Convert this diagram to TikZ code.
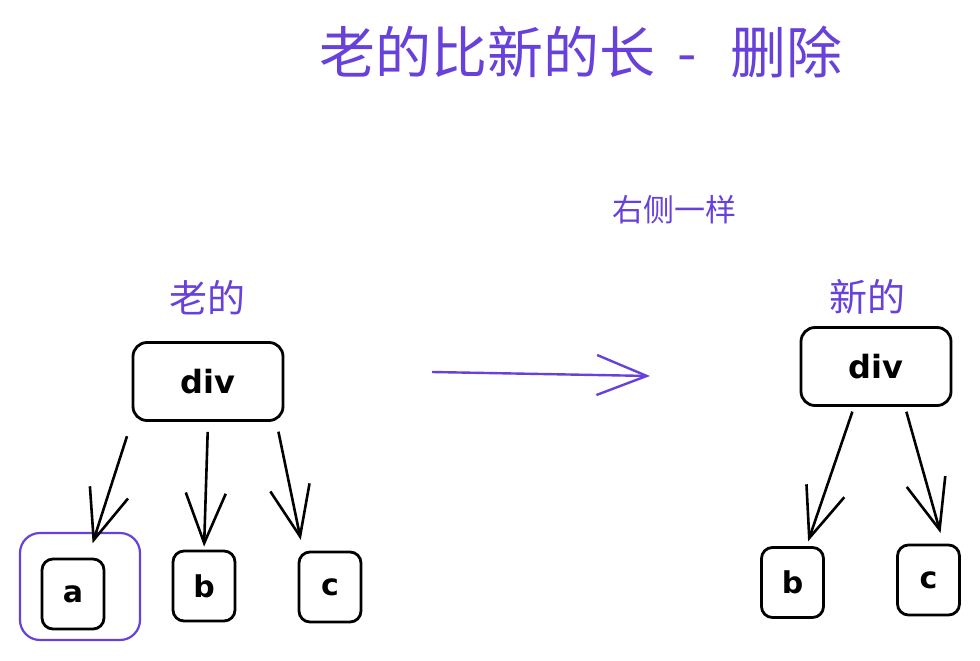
\documentclass[tikz,border=0pt]{standalone}
\usepackage{fontspec}
\setmainfont{DejaVu Sans}
\newfontfamily\cjk{Noto Sans CJK SC}
\usetikzlibrary{arrows.meta}
\definecolor{sketchviolet}{HTML}{6741D9}

\begin{document}
\begin{tikzpicture}[x=1pt,y=-1pt,
  box/.style={draw,line width=2.8pt,rounded corners=14pt,minimum width=150pt,minimum height=78pt,font=\bfseries\fontsize{32}{36}\selectfont},
  kid/.style={draw,line width=2.8pt,rounded corners=11pt,minimum width=62pt,minimum height=70pt,font=\bfseries\fontsize{30}{34}\selectfont},
  arr/.style={line width=2.6pt,-{Straight Barb[length=50pt,width=40pt]}},
  lbl/.style={text=sketchviolet,font=\cjk\fontsize{38}{44}\selectfont}]
\useasboundingbox (0,0) rectangle (980,661);

\node[text=sketchviolet,font=\cjk\fontsize{56}{64}\selectfont] (title) at (581,52) {老的比新的长\hspace{0.4em}-\hspace{0.6em}删除};
\node[text=sketchviolet,font=\cjk\fontsize{31}{36}\selectfont] (same) at (674,210) {右侧一样};

% old tree
\node[lbl] (oldlbl) at (207,298) {老的};
\node[box] (olddiv) at (208,381.5) {div};
\node[kid] (a) at (73,594) {a};
\node[draw=sketchviolet,line width=2.2pt,rounded corners=20pt,minimum width=120pt,minimum height=107pt] (sel) at (80,586.5) {};
\node[kid] (b) at (204,586) {b};
\node[kid] (c) at (330,587) {c};

\draw[arr,shorten <=15pt,shorten >=15pt] (olddiv.south west) -- ([xshift=15pt]a.north);
\draw[arr,shorten <=10pt,shorten >=3pt] (olddiv.south) -- (b.north);
\draw[arr,shorten <=10pt,shorten >=11pt] ([xshift=-8pt]olddiv.south east) -- ([xshift=-27pt]c.north);

% old -> new
\coordinate (from) at (432,372);
\coordinate (to) at (650,376);
\draw[arr,sketchviolet,line width=2.4pt] (from) -- (to);

% new tree
\node[lbl] (newlbl) at (867,297) {新的};
\node[box] (newdiv) at (876,366.5) {div};
\node[kid] (nb) at (792.5,582.5) {b};
\node[kid] (nc) at (928.5,580) {c};

\draw[arr,shorten <=5pt,shorten >=5pt] ([xshift=-22pt]newdiv.south) -- ([xshift=14pt]nb.north);
\draw[arr,shorten <=5pt,shorten >=11pt] ([xshift=29pt]newdiv.south) -- ([xshift=15pt]nc.north);

\end{tikzpicture}
\end{document}
